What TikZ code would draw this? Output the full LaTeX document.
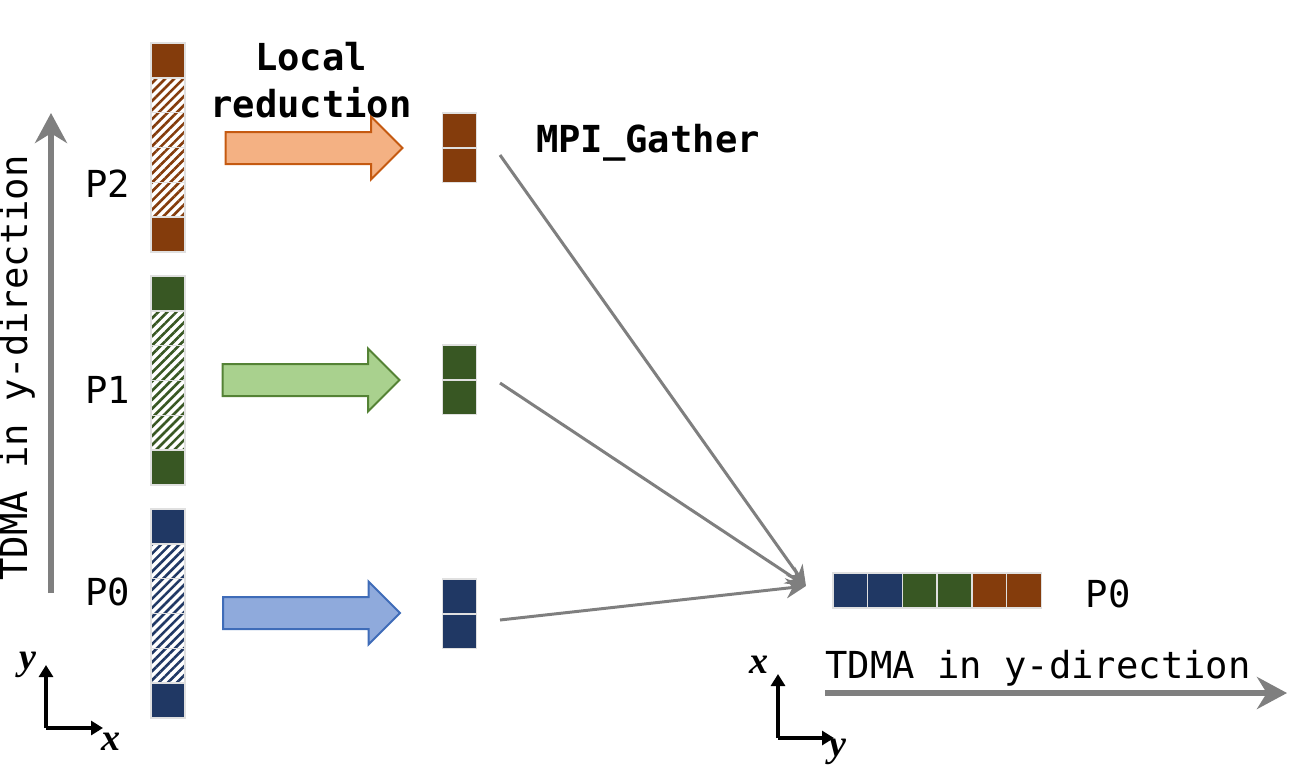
\documentclass[tikz,border=0pt]{standalone}
\usepackage{fontspec}
\setmonofont{DejaVu Sans Mono}
\newfontfamily\axisfont{Liberation Serif}
\usetikzlibrary{positioning,shapes.arrows,arrows.meta,patterns.meta}
\definecolor{pbrown}{HTML}{843C0C}
\definecolor{pgreen}{HTML}{385723}
\definecolor{pblue}{HTML}{203864}
\definecolor{orangefill}{HTML}{F4B183}
\definecolor{orangeline}{HTML}{C55A11}
\definecolor{greenfill}{HTML}{A9D18E}
\definecolor{greenline}{HTML}{548235}
\definecolor{bluefill}{HTML}{8FAADC}
\definecolor{blueline}{HTML}{3F6CB8}
\definecolor{linegray}{HTML}{7F7F7F}

\begin{document}
\begin{tikzpicture}[
  x=0.5pt,y=-0.5pt,
  node distance=0pt,
  mycell/.style={draw=black!12,line width=0.7pt,minimum width=17pt,minimum height=17.4pt,inner sep=0pt,outer sep=0pt},
  mysolid/.style={mycell,fill=#1},
  myhatch/.style={mycell,pattern={Lines[angle=45,distance=3.2pt,line width=1.3pt]},pattern color=#1},
  myarrow/.style 2 args={single arrow,draw=#1,fill=#2,line width=1pt,minimum height=88.5pt,inner xsep=0pt,inner ysep=7.5pt,single arrow head extend=7.75pt},
  mylabel/.style={font=\ttfamily\fontsize{18.6}{23.5}\selectfont},
  myboldlabel/.style={font=\ttfamily\bfseries\fontsize{18.6}{23.5}\selectfont},
  myaxislabel/.style={font=\axisfont\bfseries\itshape\fontsize{19}{22}\selectfont,inner sep=0pt},
  mygather/.style={draw=linegray,line width=1.5pt,-{Stealth[length=10pt,width=10pt]}},
  mydirection/.style={draw=linegray,line width=3pt,-{Stealth[length=15pt,width=16pt]}},
  myframe/.style={draw=black,line width=2pt,-{Triangle[length=6pt,width=7pt]}}
]
\useasboundingbox (0,0) rectangle (1289,778);

% column P2
\node[mysolid=pbrown] (c21) at (168,60.4) {};
\node[myhatch=pbrown,below=of c21] (c22) {};
\node[myhatch=pbrown,below=of c22] (c23) {};
\node[myhatch=pbrown,below=of c23] (c24) {};
\node[myhatch=pbrown,below=of c24] (c25) {};
\node[mysolid=pbrown,below=of c25] (c26) {};
% column P1
\node[mysolid=pgreen] (c11) at (168,293.4) {};
\node[myhatch=pgreen,below=of c11] (c12) {};
\node[myhatch=pgreen,below=of c12] (c13) {};
\node[myhatch=pgreen,below=of c13] (c14) {};
\node[myhatch=pgreen,below=of c14] (c15) {};
\node[mysolid=pgreen,below=of c15] (c16) {};
% column P0
\node[mysolid=pblue] (c01) at (168,526.4) {};
\node[myhatch=pblue,below=of c01] (c02) {};
\node[myhatch=pblue,below=of c02] (c03) {};
\node[myhatch=pblue,below=of c03] (c04) {};
\node[myhatch=pblue,below=of c04] (c05) {};
\node[mysolid=pblue,below=of c05] (c06) {};

\node[mylabel,anchor=base] (p2) at (108,197) {P2};
\node[mylabel,anchor=base] (p1) at (108,403) {P1};
\node[mylabel,anchor=base] (p0) at (108,605) {P0};

% local reduction
\node[myarrow={orangeline}{orangefill}] (red2) at (306,148) {};
\node[myarrow={greenline}{greenfill}] (red1) at (303,380) {};
\node[myarrow={blueline}{bluefill}] (red0) at (303.5,613) {};
\node[myboldlabel,align=center] (local) at (311,80) {Local\\reduction};

\node[mysolid=pbrown] (m21) at (459.5,130.5) {};
\node[mysolid=pbrown,below=of m21] (m22) {};
\node[mysolid=pgreen] (m11) at (459.5,362.5) {};
\node[mysolid=pgreen,below=of m11] (m12) {};
\node[mysolid=pblue] (m01) at (459.5,596.5) {};
\node[mysolid=pblue,below=of m01] (m02) {};

% gather
\node[myboldlabel,anchor=base] (gather) at (648,152) {MPI\_Gather};
\coordinate (g2) at (500,155);
\coordinate (g1) at (500,383);
\coordinate (g0) at (500,620);
\coordinate (gat) at (806,586);
\path (g2) edge[mygather] (gat)
(g1) edge[mygather] (gat)
(g0) edge[mygather] (gat);

\node[mysolid=pblue,minimum width=17.35pt] (r1) at (850.4,590.5) {};
\node[mysolid=pblue,minimum width=17.35pt,right=of r1] (r2) {};
\node[mysolid=pgreen,minimum width=17.35pt,right=of r2] (r3) {};
\node[mysolid=pgreen,minimum width=17.35pt,right=of r3] (r4) {};
\node[mysolid=pbrown,minimum width=17.35pt,right=of r4] (r5) {};
\node[mysolid=pbrown,minimum width=17.35pt,right=of r5] (r6) {};
\node[mylabel,anchor=base] (p0r) at (1108,607) {P0};

% TDMA directions
\coordinate (ya) at (51,593);
\coordinate (yb) at (51,113);
\draw[mydirection] (ya) -- (yb);
\node[mylabel,rotate=90,anchor=base] (tdmal) at (27,368) {TDMA in y-direction};
\coordinate (xa) at (825,693);
\coordinate (xb) at (1287,693);
\draw[mydirection] (xa) -- (xb);
\node[mylabel,anchor=base] (tdmar) at (1038,678) {TDMA in y-direction};

% frames
\coordinate (lo) at (46,728);
\coordinate (lu) at (46,665);
\coordinate (lr) at (103,728);
\draw[myframe] (lo) -- (lu);
\draw[myframe] (lo) -- (lr);
\node[myaxislabel] (ly) at (28,665) {y};
\node[myaxislabel] (lx) at (111,742) {x};
\coordinate (ro) at (778,738);
\coordinate (ru) at (778,674);
\coordinate (rr) at (834,738);
\draw[myframe] (ro) -- (ru);
\draw[myframe] (ro) -- (rr);
\node[myaxislabel] (rx) at (759,665) {x};
\node[myaxislabel] (ry) at (838,752) {y};
\end{tikzpicture}
\end{document}
